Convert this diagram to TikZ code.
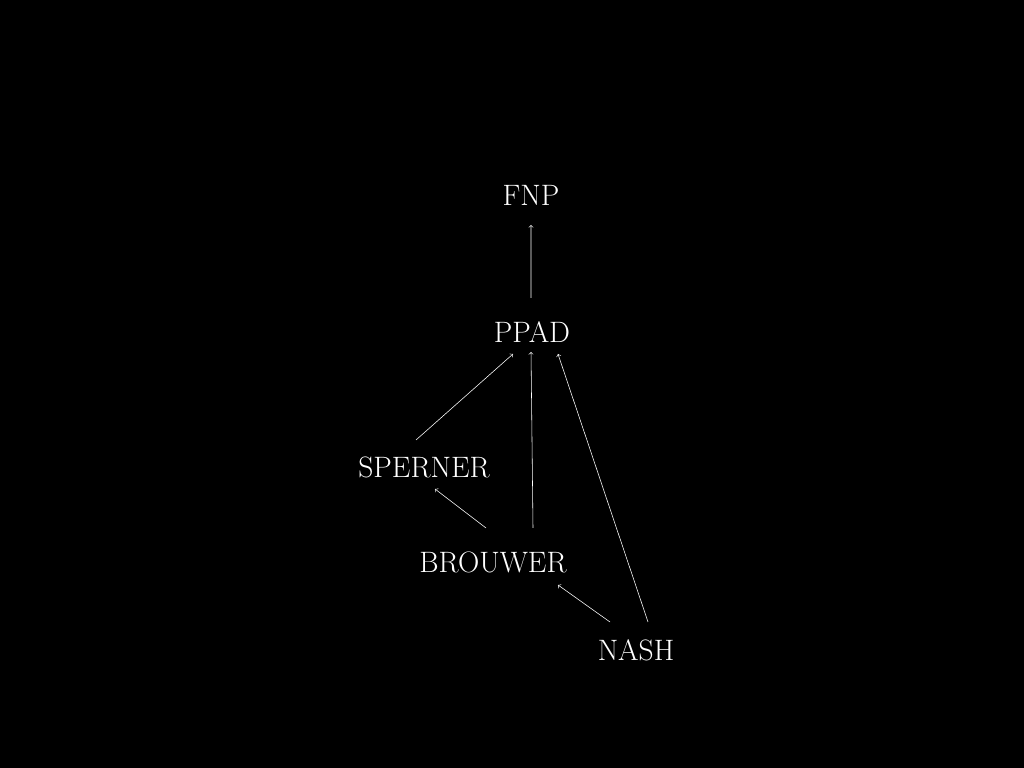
\documentclass[tikz,border=0pt]{standalone}
\usepackage{tikz}
\usetikzlibrary{calc}
\begin{document}
\begin{tikzpicture}[
	cls/.style={text=white, font=\fontsize{21}{25}\selectfont, inner sep=0pt},
	red/.style={->, white, thin}]
	\fill[black] (0,0) rectangle (25.6,19.2);
	\useasboundingbox (0,0) rectangle (25.6,19.2);

	\node[cls] (fnp) at (13.275,14.325) {FNP};
	\node[cls] (ppad) at (13.3,10.9) {PPAD};
	\node[cls] (sperner) at (10.6,7.525) {SPERNER};
	\node[cls] (brouwer) at (12.325,5.15) {BROUWER};
	\node[cls] (nash) at (15.9,2.95) {NASH};

	\draw[red] ($(ppad)+(-0.025,0.85)$) -- ($(fnp)+(0,-0.75)$);
	\draw[red] ($(sperner)+(-0.2,0.675)$) -- ($(ppad)+(-0.475,-0.55)$);
	\draw[red] ($(brouwer)+(1.0,0.85)$) -- ($(ppad)+(-0.025,-0.5)$);
	\draw[red] ($(nash)+(0.3,0.7)$) -- ($(ppad)+(0.65,-0.55)$);
	\draw[red] ($(brouwer)+(-0.175,0.85)$) -- ($(sperner)+(0.275,-0.55)$);
	\draw[red] ($(nash)+(-0.65,0.7)$) -- ($(brouwer)+(1.625,-0.575)$);
\end{tikzpicture}
\end{document}
